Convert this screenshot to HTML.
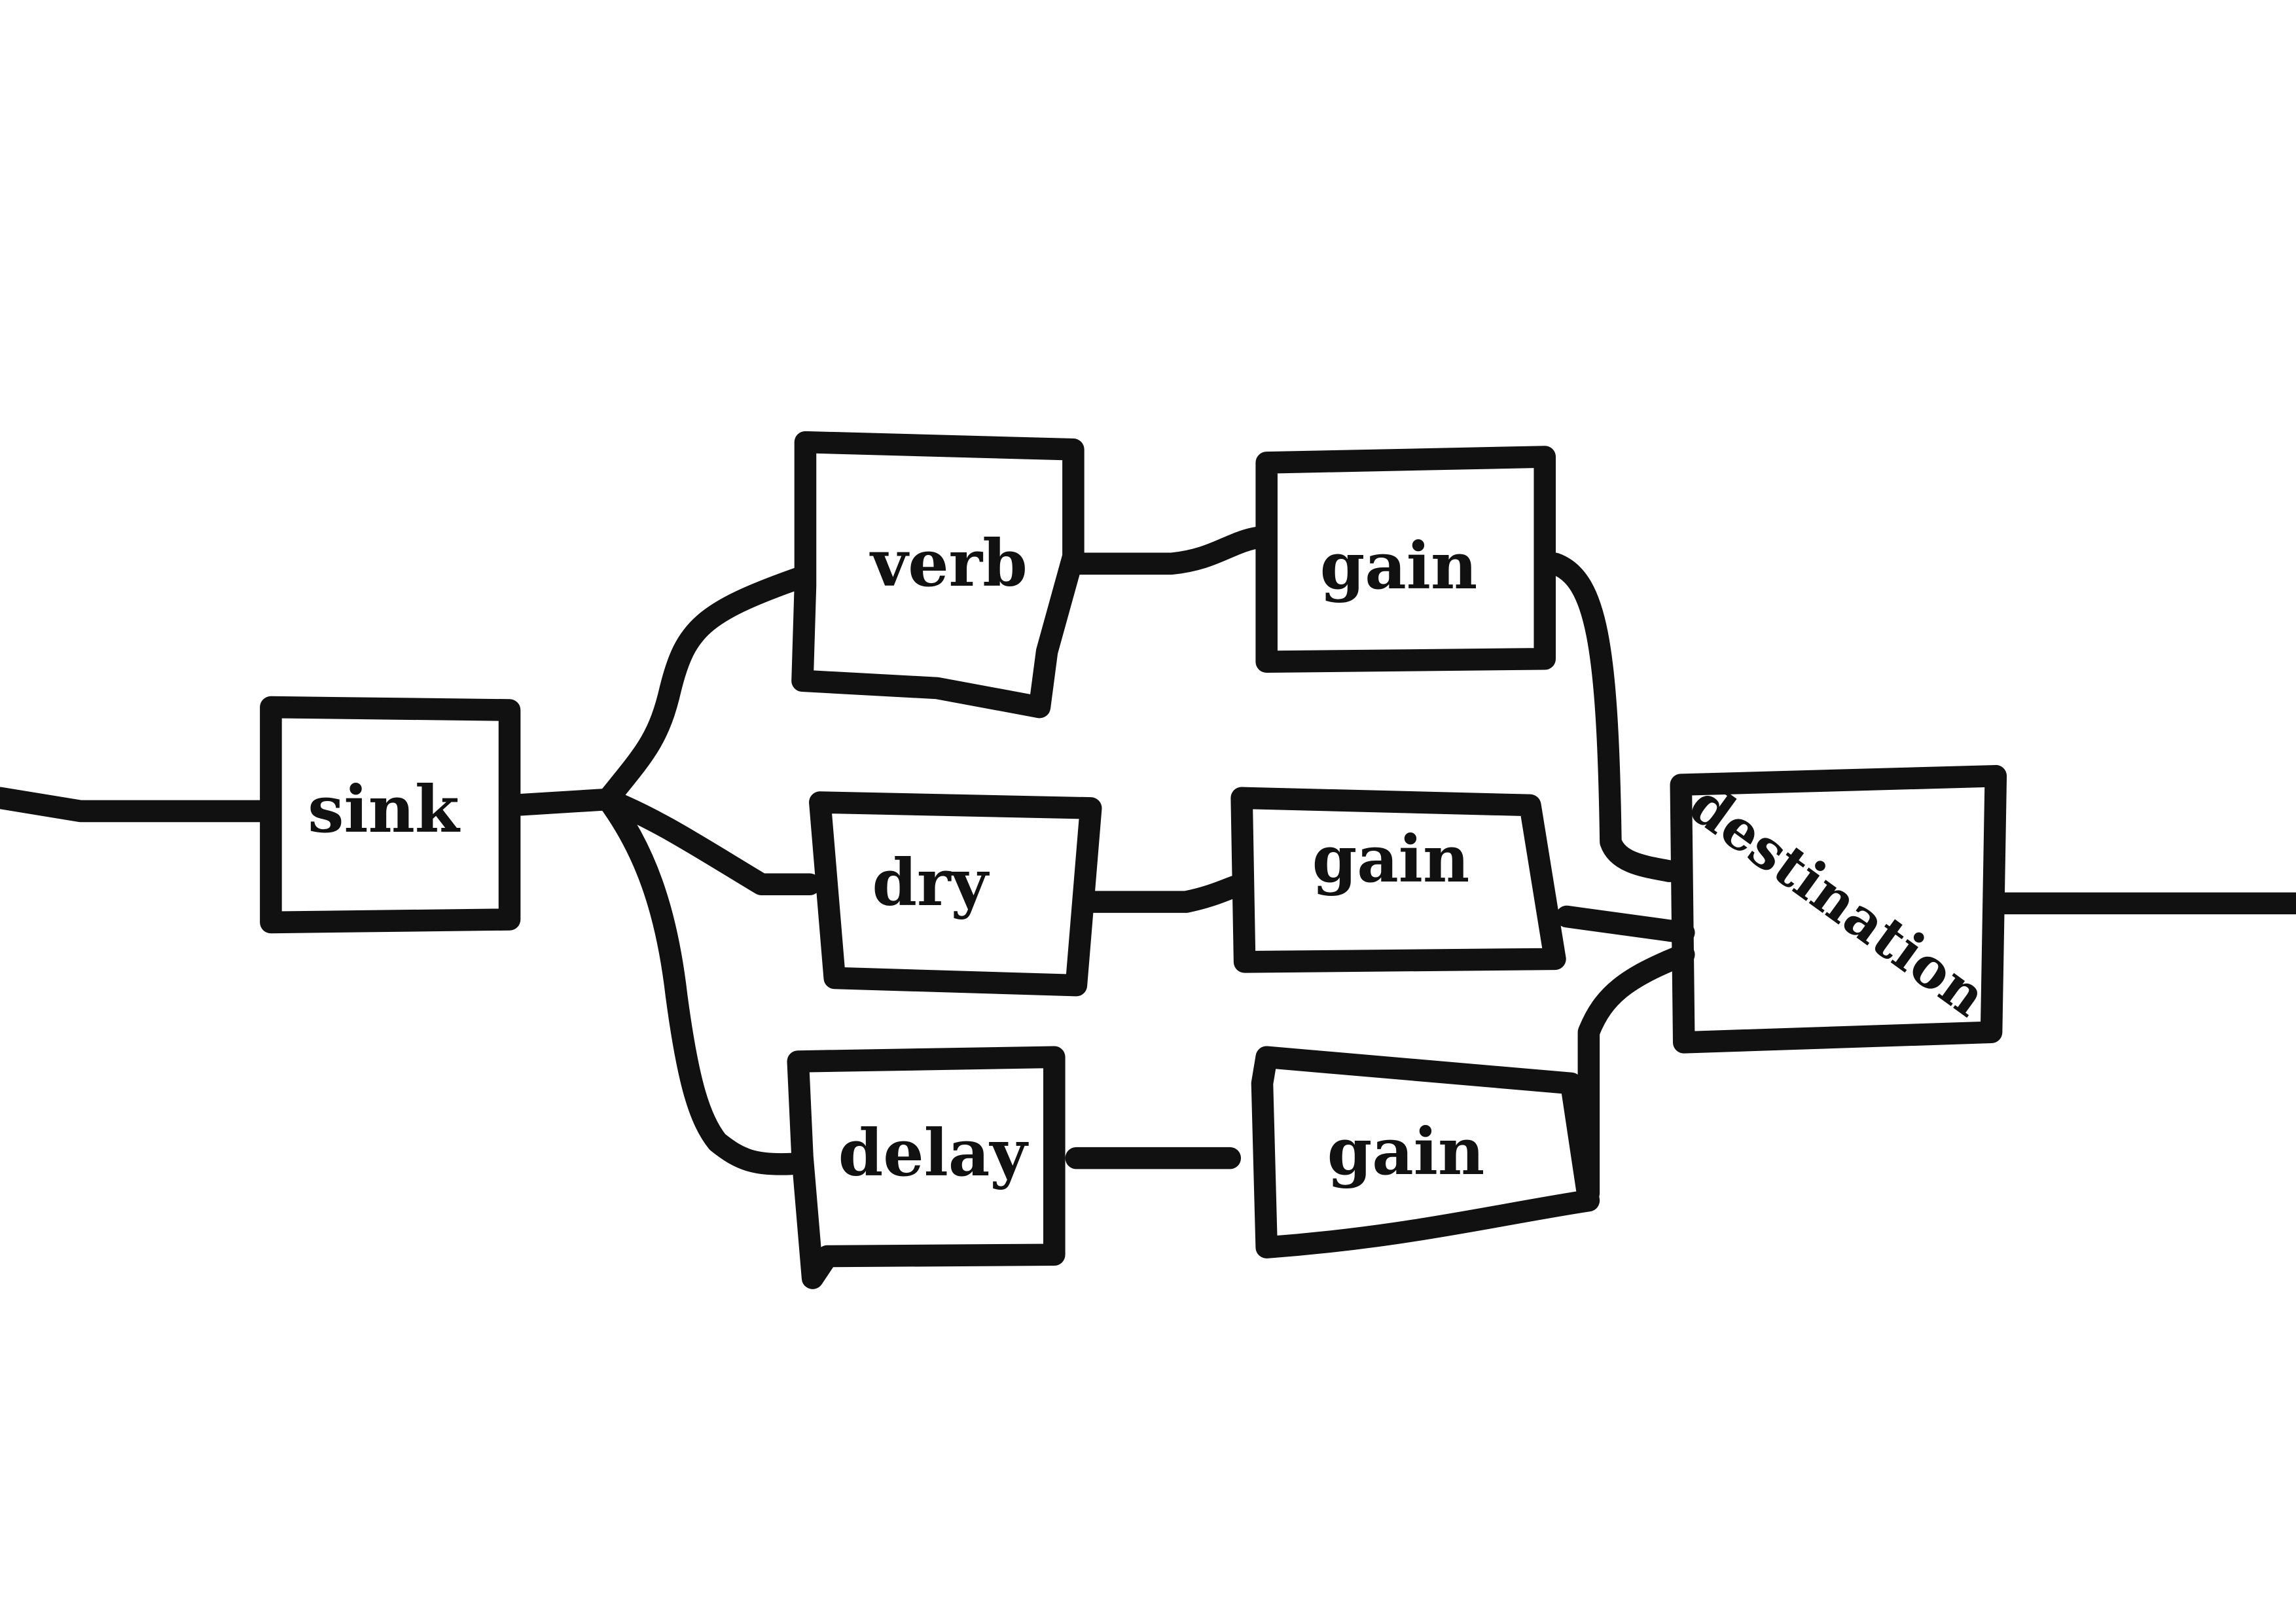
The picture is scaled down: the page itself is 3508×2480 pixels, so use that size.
<!DOCTYPE html>
<html><head><meta charset="utf-8"><style>
html,body{margin:0;padding:0;background:#fff;}
svg{display:block;}
text{font-family:"DejaVu Serif","Liberation Serif",serif;font-weight:bold;fill:#111;}
</style></head><body>
<svg width="3508" height="2480" xmlns="http://www.w3.org/2000/svg">
<g transform="scale(2.2372)" fill="none" stroke="#111" stroke-width="15" stroke-linecap="round" stroke-linejoin="round">
<path d="M0,545 L55,554 L182,554"/>
<path d="M185,483 L348,485 L348,628 L185,630 Z"/>
<path d="M350,550 L415,546"/>
<path d="M415,546 C440,515 450,505 458,470 C468,430 480,418 545,395"/>
<path d="M415,546 C450,560 480,580 520,604 L553,604"/>
<path d="M415,546 C440,580 455,620 462,680 C470,740 478,765 490,780 C505,792 515,796 540,795"/>
<path d="M550,302 L733,307 L733,380 L715,445 L710,483 L640,470 L548,465 L550,400 Z"/>
<path d="M737,385 L800,385 C830,382 840,370 860,367"/>
<path d="M865,316 L1055,312 L1055,450 L865,452 Z"/>
<path d="M1062,385 C1090,395 1098,440 1100,575 C1105,590 1125,592 1140,595"/>
<path d="M560,548 L745,552 L735,673 L570,668 Z"/>
<path d="M745,616 L810,616 C830,612 840,606 848,604"/>
<path d="M848,545 L1045,550 L1062,655 L850,657 Z"/>
<path d="M1070,626 L1150,637"/>
<path d="M545,725 L720,722 L720,857 L565,858 L555,873 L548,790 Z"/>
<path d="M735,791 L840,791"/>
<path d="M865,722 L1073,740 L1085,820 C1020,830 960,845 865,852 L862,740 Z"/>
<path d="M1085,815 L1085,705 C1095,680 1110,668 1150,652"/>
<path d="M1148,536 L1363,530 L1360,705 L1150,712 Z"/>
<path d="M1365,617 L1568,617"/>
</g>
<text x="586" y="1271" font-size="98" text-anchor="middle">sink</text>
<text x="1450" y="895" font-size="98" text-anchor="middle">verb</text>
<text x="2137" y="899" font-size="98" text-anchor="middle">gain</text>
<text x="1421" y="1383" font-size="98" text-anchor="middle">dry</text>
<text x="2125" y="1347" font-size="98" text-anchor="middle">gain</text>
<text x="1425" y="1796" font-size="98" text-anchor="middle">delay</text>
<text x="2148" y="1794" font-size="98" text-anchor="middle">gain</text>
<text x="2808" y="1405" font-size="84" text-anchor="middle" transform="rotate(36 2808 1376)">destination</text>
</svg>
</body></html>
